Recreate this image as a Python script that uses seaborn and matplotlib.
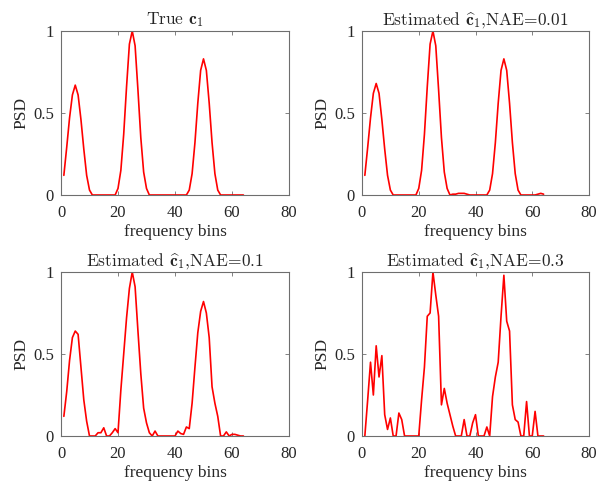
import matplotlib
matplotlib.use("Agg")
import matplotlib.pyplot as plt
import seaborn as sns
import pandas as pd
import numpy as np

bins = list(range(1, 65))

true_c1 = [0.12, 0.29, 0.47, 0.61, 0.67, 0.61, 0.46, 0.28, 0.12, 0.03,
           0.0, 0.0, 0.0, 0.0, 0.0, 0.0, 0.0, 0.0, 0.0, 0.04,
           0.15, 0.37, 0.66, 0.92, 1.0, 0.91, 0.64, 0.35, 0.14, 0.04,
           0.0, 0.0, 0.0, 0.0, 0.0, 0.0, 0.0, 0.0, 0.0, 0.0,
           0.0, 0.0, 0.0, 0.0, 0.03, 0.13, 0.32, 0.56, 0.76, 0.83,
           0.76, 0.56, 0.32, 0.13, 0.03, 0.0, 0.0, 0.0, 0.0, 0.0,
           0.0, 0.0, 0.0, 0.0]

est_001 = [0.12, 0.29, 0.47, 0.62, 0.68, 0.62, 0.46, 0.28, 0.12, 0.03,
           0.0, 0.0, 0.0, 0.0, 0.0, 0.0, 0.0, 0.0, 0.0, 0.04,
           0.15, 0.37, 0.66, 0.92, 1.0, 0.91, 0.64, 0.35, 0.14, 0.04,
           0.0, 0.005, 0.005, 0.01, 0.01, 0.01, 0.005, 0.0, 0.0, 0.0,
           0.0, 0.0, 0.0, 0.0, 0.03, 0.13, 0.32, 0.56, 0.76, 0.83,
           0.76, 0.56, 0.32, 0.13, 0.03, 0.0, 0.0, 0.0, 0.0, 0.0,
           0.0, 0.005, 0.01, 0.005]

est_01 = [0.12, 0.27, 0.46, 0.60, 0.64, 0.62, 0.42, 0.22, 0.09, 0.0,
          0.0, 0.0, 0.02, 0.02, 0.05, 0.0, 0.0, 0.02, 0.045, 0.02,
          0.28, 0.50, 0.72, 0.90, 1.0, 0.91, 0.64, 0.38, 0.17, 0.08,
          0.02, 0.0, 0.03, 0.0, 0.0, 0.0, 0.0, 0.0, 0.0, 0.0,
          0.03, 0.015, 0.01, 0.055, 0.045, 0.20, 0.42, 0.63, 0.76, 0.82,
          0.75, 0.60, 0.30, 0.20, 0.12, 0.0, 0.0, 0.025, 0.0, 0.01,
          0.01, 0.005, 0.0, 0.0]

est_03 = [0.0, 0.22, 0.45, 0.25, 0.55, 0.36, 0.49, 0.13, 0.04, 0.11,
          0.0, 0.0, 0.14, 0.10, 0.0, 0.0, 0.0, 0.0, 0.0, 0.0,
          0.22, 0.42, 0.73, 0.75, 1.0, 0.86, 0.73, 0.19, 0.29, 0.20,
          0.13, 0.06, 0.0, 0.0, 0.0, 0.10, 0.0, 0.0, 0.08, 0.13,
          0.0, 0.0, 0.0, 0.055, 0.0, 0.24, 0.36, 0.45, 0.73, 0.98,
          0.70, 0.64, 0.19, 0.10, 0.085, 0.0, 0.0, 0.21, 0.0, 0.0,
          0.15, 0.0, 0.0, 0.0]

titles = [r"True $\mathbf{c}_1$",
          r"Estimated $\widehat{\mathbf{c}}_1$,NAE=0.01",
          r"Estimated $\widehat{\mathbf{c}}_1$,NAE=0.1",
          r"Estimated $\widehat{\mathbf{c}}_1$,NAE=0.3"]
series = [true_c1, est_001, est_01, est_03]
x_ticks = [0, 20, 40, 60, 80]
y_ticks = [0, 0.5, 1]
y_tick_labels = ["0", "0.5", "1"]
xlabel = "frequency bins"
ylabel = "PSD"

sns.set_style("ticks")
plt.rcParams["font.family"] = ["Liberation Serif", "DejaVu Serif"]
plt.rcParams["mathtext.fontset"] = "cm"

W, H = 598, 483
fig = plt.figure(figsize=(W / 100, H / 100), dpi=100)

boxes = [(61, 31, 289, 195), (362, 31, 589, 195),
         (61, 272, 289, 436), (362, 272, 589, 436)]

edge = "#6e6e6e"
txt = "#262626"
for (l, t, r, b), vals, title in zip(boxes, series, titles):
    ax = fig.add_axes([l / W, 1 - b / H, (r - l) / W, (b - t) / H])
    df = pd.DataFrame({"bin": bins, "psd": vals})
    sns.lineplot(data=df, x="bin", y="psd", ax=ax, color="#ff0000",
                 linewidth=1.2)
    ax.set_xlim(0, 80)
    ax.set_ylim(0, 1)
    ax.set_xticks(x_ticks)
    ax.set_yticks(y_ticks)
    ax.set_yticklabels(y_tick_labels)
    ax.tick_params(direction="in", top=True, right=True, length=3,
                   width=0.6, color=edge, labelcolor=txt)
    ax.tick_params(axis="x", pad=7)
    ax.tick_params(axis="y", pad=5)
    for lab in ax.get_xticklabels() + ax.get_yticklabels():
        lab.set_fontfamily("Liberation Serif")
        lab.set_fontsize(12)
    for s in ax.spines.values():
        s.set_visible(True)
        s.set_color(edge)
        s.set_linewidth(0.8)
    ax.set_xlabel(xlabel, fontsize=12.5, family="Liberation Serif",
                  color=txt, labelpad=2.5)
    ax.set_ylabel(ylabel, fontsize=12.5, family="Liberation Serif",
                  color=txt, labelpad=3)
    ax.set_title(title, fontsize=12.5, family="cmr10", color=txt, pad=5)

fig.savefig("out.png", dpi=100)
